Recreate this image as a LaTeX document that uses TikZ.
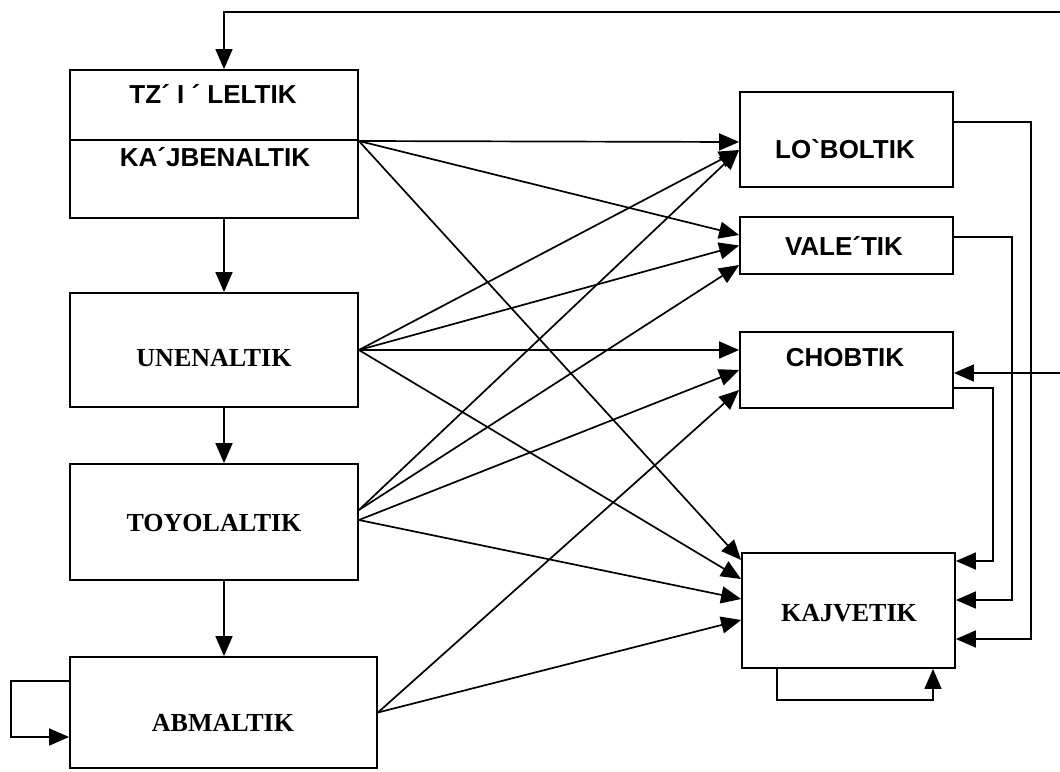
\documentclass[tikz,border=0pt]{standalone}
\usepackage{fontspec}
\newfontfamily\arialf{Liberation Sans}
\newfontfamily\timesf{Liberation Serif}
\usetikzlibrary{arrows.meta}
\begin{document}
\begin{tikzpicture}[x=1pt,y=-1pt,
  box/.style={draw, line width=1.8pt, inner sep=0pt},
  lbls/.style={font=\arialf\bfseries\fontsize{26}{30}\selectfont, anchor=base, inner sep=0pt},
  lblr/.style={font=\timesf\bfseries\fontsize{26}{30}\selectfont, anchor=base, inner sep=0pt},
  arr/.style={-{Triangle[length=20pt,width=17pt]}, line width=1.7pt},
  ln/.style={line width=1.7pt}]
\useasboundingbox (0,0) rectangle (1060,771);
% left column
\node[box, minimum width=288pt, minimum height=148pt] (b1) at (214,144) {};
\node[box, minimum width=288pt, minimum height=114pt] (unen) at (214,350) {};
\node[box, minimum width=288pt, minimum height=116pt] (toy) at (214,522) {};
\node[box, minimum width=307pt, minimum height=111pt] (abm) at (223.5,712.5) {};
% right column
\node[box, minimum width=213pt, minimum height=95pt] (lob) at (846.5,139.5) {};
\node[box, minimum width=213pt, minimum height=57pt] (val) at (846.5,245.5) {};
\node[box, minimum width=213pt, minimum height=76pt] (cho) at (846.5,370) {};
\node[box, minimum width=213pt, minimum height=115pt] (kaj) at (848.5,610.5) {};
% divider in first box
\draw[ln] ([yshift=4pt]b1.west) -- ([yshift=4pt]b1.east);
% labels
\node[lbls] (t1) at (213,103) {TZ´ I ´ LELTIK};
\node[lbls] (t2) at (215,166) {KA´JBENALTIK};
\node[lblr] (t3) at (214,366) {UNENALTIK};
\node[lblr] (t4) at (214,531) {TOYOLALTIK};
\node[lblr] (t5) at (223,731) {ABMALTIK};
\node[lbls] (t6) at (845,158) {LO`BOLTIK};
\node[lbls] (t7) at (844,255) {VALE´TIK};
\node[lbls] (t8) at (845,366) {CHOBTIK};
\node[lblr] (t9) at (849,621) {KAJVETIK};
% vertical arrows
\draw[arr] ([xshift=10pt]b1.south) -- ([xshift=10pt]unen.north);
\draw[arr] ([xshift=10pt]unen.south) -- ([xshift=10pt]toy.north);
\draw[arr] ([xshift=10pt]toy.south) -- ([xshift=0.5pt]abm.north);
% top feedback
\coordinate (fbin) at (1060,12);
\draw[arr] (fbin) -| ([xshift=10pt]b1.north);
% abm self loop
\draw[arr] ([yshift=31.5pt]abm.west) -- ++(-58,0) |- ([yshift=-24.5pt]abm.west);
% from b1
\draw[arr] ([yshift=3pt]b1.east) -- ([yshift=-2.5pt]lob.west);
\draw[arr] ([yshift=3pt]b1.east) -- ([yshift=10.5pt]val.west);
\draw[arr] ([yshift=3pt]b1.east) -- ([yshift=50.5pt]kaj.west);
% from unen
\draw[arr] (unen.east) -- ([yshift=-10.5pt]lob.west);
\draw[arr] (unen.east) -- (val.west);
\draw[arr] (unen.east) -- ([yshift=20pt]cho.west);
\draw[arr] (unen.east) -- ([yshift=31.5pt]kaj.west);
% from toy
\draw[arr] ([yshift=12pt]toy.east) -- ([yshift=-10.5pt]lob.west);
\draw[arr] ([yshift=12pt]toy.east) -- ([yshift=-19.5pt]val.west);
\draw[arr] ([yshift=2pt]toy.east) -- (cho.west);
\draw[arr] ([yshift=2pt]toy.east) -- ([yshift=11.5pt]kaj.west);
% from abm
\draw[arr] (abm.east) -- ([yshift=-20pt]cho.west);
\draw[arr] (abm.east) -- ([yshift=-9.5pt]kaj.west);
% right feedbacks
\draw[arr] ([yshift=17.5pt]lob.east) -- ++(77,0) |- ([yshift=-28.5pt]kaj.east);
\draw[arr] ([yshift=8.5pt]val.east) -- ++(58,0) |- ([yshift=10.5pt]kaj.east);
\draw[arr] ([yshift=-18pt]cho.east) -- ++(39,0) |- ([yshift=49.5pt]kaj.east);
\coordinate (chin) at (1060,373);
\draw[arr] (chin) -- ([yshift=-3pt]cho.east);
% kaj self loop
\draw[arr] ([xshift=-71.5pt]kaj.south) -- ++(0,31) -| ([xshift=84.5pt]kaj.south);
\end{tikzpicture}
\end{document}
